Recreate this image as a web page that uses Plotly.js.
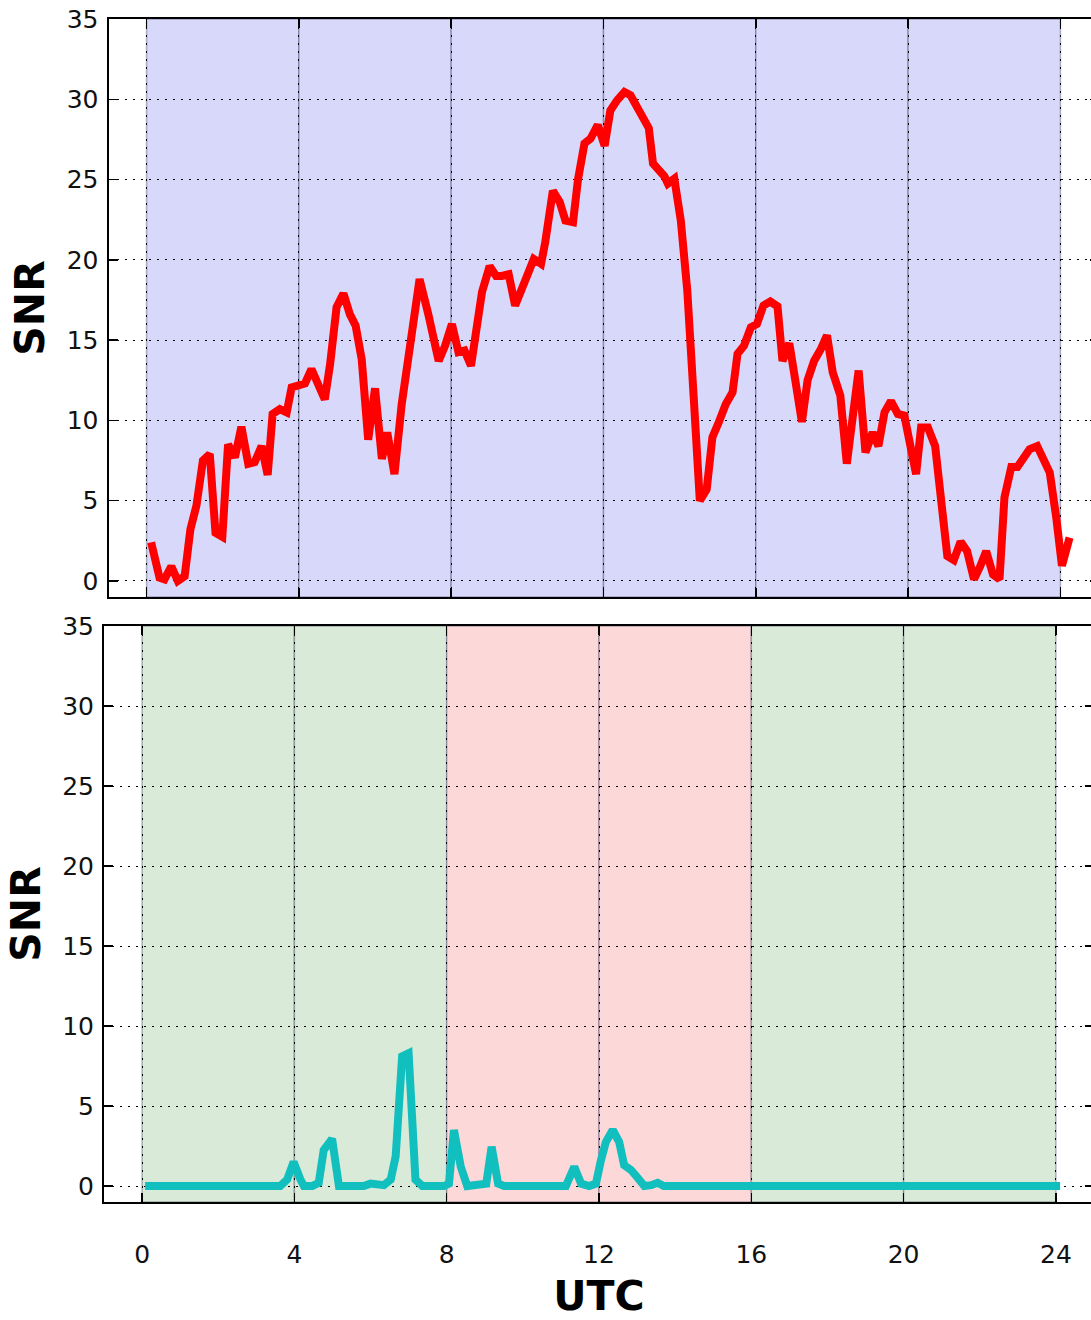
<!DOCTYPE html>
<html>
<head>
<meta charset="utf-8">
<script src="https://cdn.plot.ly/plotly-3.0.1.min.js"></script>
<style>
html,body{margin:0;padding:0;overflow:hidden;background:#fff}
#chart{width:1100px;height:1320px}
</style>
</head>
<body>
<div id="chart"></div>
<script>
// ---- data ----
const hourTicks = [0, 4, 8, 12, 16, 20, 24];
const snrTicks = [0, 5, 10, 15, 20, 25, 30, 35];

const topX = [0.12,0.34,0.47,0.65,0.82,1.0,1.15,1.31,1.48,1.66,1.81,1.99,2.14,2.32,2.49,2.67,2.84,3.02,3.18,3.31,3.5,3.68,3.81,3.98,4.16,4.33,4.51,4.68,4.82,4.99,5.17,5.34,5.49,5.65,5.82,6.0,6.18,6.32,6.51,6.7,6.92,7.17,7.4,7.67,7.84,8.02,8.19,8.35,8.52,8.68,8.81,9.01,9.18,9.33,9.51,9.68,9.86,10.03,10.17,10.36,10.47,10.67,10.85,11.0,11.2,11.33,11.5,11.66,11.85,12.03,12.18,12.36,12.55,12.71,12.89,13.06,13.19,13.3,13.45,13.6,13.69,13.86,14.03,14.2,14.38,14.53,14.71,14.86,15.03,15.21,15.39,15.52,15.69,15.87,16.03,16.2,16.38,16.57,16.7,16.88,17.05,17.21,17.36,17.53,17.71,17.87,18.02,18.22,18.39,18.54,18.7,18.88,19.07,19.22,19.38,19.55,19.73,19.9,20.06,20.21,20.34,20.52,20.71,20.87,21.03,21.2,21.38,21.55,21.73,21.9,22.05,22.23,22.4,22.53,22.71,22.87,23.02,23.19,23.39,23.54,23.72,23.89,24.04,24.24];
const topSNR = [2.4,0.2,0.1,0.9,0.0,0.3,3.2,4.7,7.5,7.9,3.0,2.75,8.5,7.7,9.6,7.3,7.4,8.4,6.6,10.4,10.7,10.5,12.05,12.2,12.3,13.2,12.3,11.3,13.5,17.05,17.9,16.6,15.9,13.8,8.8,12.0,7.6,9.25,6.65,11.0,14.65,18.8,16.6,13.7,14.65,16.0,14.25,14.35,13.4,15.9,18.0,19.6,19.0,19.0,19.1,17.15,18.2,19.45,20.05,19.75,21.1,24.3,23.6,22.45,22.35,25.0,27.25,27.55,28.4,27.1,29.3,29.95,30.45,30.25,29.5,28.9,28.2,26.0,25.6,25.2,24.75,25.05,22.45,18.1,11.0,5.0,5.7,8.95,9.9,11.0,11.75,14.15,14.65,15.8,16.0,17.15,17.4,17.1,13.7,14.8,12.3,9.9,12.5,13.7,14.45,15.3,13.0,11.55,7.3,10.3,13.1,8.0,9.25,8.4,10.5,11.2,10.4,10.3,8.5,6.65,9.55,9.55,8.4,5.0,1.55,1.3,2.45,1.85,0.1,0.95,1.85,0.4,0.1,5.2,7.1,7.1,7.7,8.2,8.4,7.6,6.75,3.95,0.95,2.7];

const bottomX = [0.08,3.63,3.81,3.98,4.16,4.25,4.47,4.64,4.77,4.99,5.17,5.82,6.0,6.18,6.35,6.53,6.66,6.83,7.0,7.18,7.36,7.93,8.06,8.19,8.37,8.54,8.72,8.89,9.04,9.18,9.35,9.51,11.13,11.35,11.53,11.74,11.92,12.05,12.18,12.36,12.53,12.66,12.84,13.02,13.19,13.37,13.54,13.7,24.11];
const bottomSNR = [0,0,0.4,1.5,0.4,0,0,0.2,2.25,2.95,0,0,0.15,0.15,0.05,0.4,1.85,8.1,8.3,0.4,0,0,0.15,3.5,1.2,0,0.05,0.15,0.15,2.45,0.15,0,0,1.2,0.15,0,0.15,1.6,2.75,3.5,2.75,1.3,1.0,0.5,0,0.05,0.2,0,0];

// shaded periods (start hour, end hour, kind)
const topSpanStart = [0, 4, 8, 12, 16, 20];
const topSpanEnd   = [4, 8, 12, 16, 20, 24];
const bottomSpanStart = [0, 4, 8, 12, 16, 20];
const bottomSpanEnd   = [4, 8, 12, 16, 20, 24];
const bottomSpanKind  = ['day', 'day', 'night', 'night', 'day', 'day'];

// ---- styling / layout ----
const W = 1100, H = 1320;
const fam = 'DejaVu Sans, Liberation Sans, sans-serif';
const kindColor = {all: '#d8d8fb', day: '#d9ead9', night: '#fdd8d8'};
const edgeColor = 'rgba(50,50,90,0.35)';

const shapes = [];
topSpanStart.forEach((s, i) => shapes.push({
  type: 'rect', xref: 'x', yref: 'y domain', x0: s, x1: topSpanEnd[i], y0: 0, y1: 1,
  fillcolor: kindColor.all, line: {color: edgeColor, width: 1.5}, layer: 'below'
}));
bottomSpanStart.forEach((s, i) => shapes.push({
  type: 'rect', xref: 'x2', yref: 'y2 domain', x0: s, x1: bottomSpanEnd[i], y0: 0, y1: 1,
  fillcolor: kindColor[bottomSpanKind[i]], line: {color: edgeColor, width: 1.5}, layer: 'below'
}));

function xAxis(dom, anchor, labels) {
  return {
    domain: dom, anchor: anchor, range: [-1, 25], tickvals: hourTicks,
    ticktext: hourTicks.map(String), showticklabels: labels,
    ticks: 'inside', ticklen: 9, tickwidth: 1.5, tickcolor: '#000',
    showline: true, linewidth: 2, linecolor: '#000', mirror: 'ticks',
    showgrid: true, gridcolor: '#000', gridwidth: 1, griddash: '2px,6px',
    zeroline: false, automargin: false, ticklabelstandoff: 29,
    tickfont: {family: fam, size: 25, color: '#111'}
  };
}
function yAxis(dom, anchor) {
  return {
    domain: dom, anchor: anchor, range: [-1, 35], tickvals: snrTicks,
    ticks: 'inside', ticklen: 9, tickwidth: 1.5, tickcolor: '#000',
    showline: true, linewidth: 2, linecolor: '#000', mirror: 'ticks',
    showgrid: true, gridcolor: '#000', gridwidth: 1, griddash: '2px,6px',
    zeroline: false, automargin: false, ticklabelstandoff: 3,
    tickfont: {family: fam, size: 25, color: '#111'},
    title: {text: '<b>SNR</b>', standoff: 9, font: {family: fam, size: 41, color: '#000'}}
  };
}

const xa = xAxis([108.5 / W, 1098.5 / W], 'y', false);
const xa2 = xAxis([104 / W, 1094 / W], 'y2', true);
xa2.title = {text: '<b>UTC</b>', standoff: 27, font: {family: fam, size: 41, color: '#000'}};

const data = [
  {x: topX, y: topSNR, xaxis: 'x', yaxis: 'y', type: 'scatter', mode: 'lines',
   line: {color: '#ff0000', width: 8}, hoverinfo: 'x+y'},
  {x: bottomX, y: bottomSNR, xaxis: 'x2', yaxis: 'y2', type: 'scatter', mode: 'lines',
   line: {color: '#12bfbf', width: 8}, hoverinfo: 'x+y'}
];

const layout = {
  width: W, height: H,
  margin: {l: 0, r: 0, t: 0, b: 0},
  paper_bgcolor: '#fff', plot_bgcolor: '#fff',
  showlegend: false,
  xaxis: xa, xaxis2: xa2,
  yaxis: yAxis([1 - 597 / H, 1 - 19 / H], 'x'),
  yaxis2: yAxis([1 - 1202 / H, 1 - 626 / H], 'x2'),
  shapes: shapes
};

Plotly.newPlot('chart', data, layout, {displayModeBar: false, staticPlot: true});
</script>
</body>
</html>
